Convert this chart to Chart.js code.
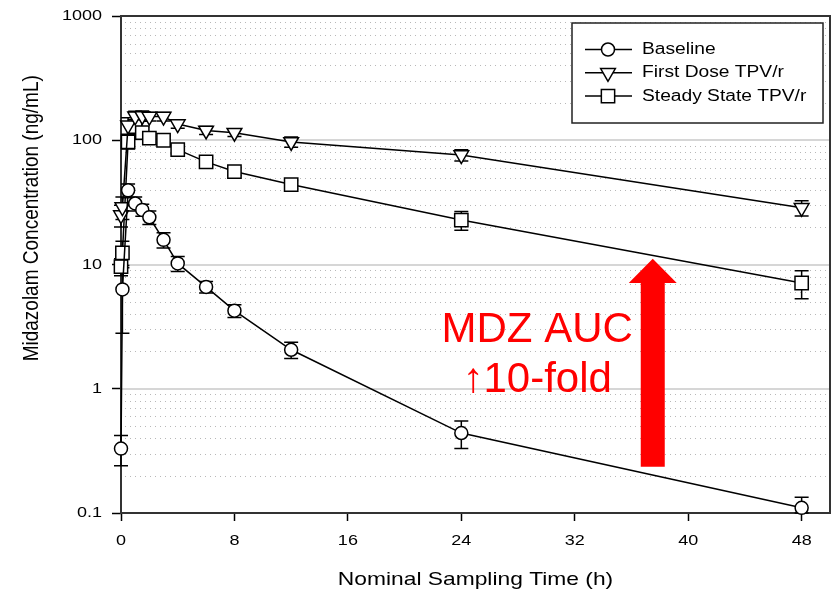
<!DOCTYPE html>
<html>
<head>
<meta charset="utf-8">
<script src="https://cdn.jsdelivr.net/npm/chart.js@4.4.0/dist/chart.umd.min.js"></script>
<style>
  html, body { margin: 0; padding: 0; background: #fff; }
  #wrap { width: 833px; height: 597px; position: relative; }
</style>
</head>
<body>
<div id="wrap"><canvas id="pkChart"></canvas></div>
<script>
// nominal sampling times (h)
const times = [0, 0.1, 0.5, 1, 1.5, 2, 3, 4, 6, 8, 12, 24, 48];

const baseline = [0.33, 6.3, 39.5, 31, 27.5, 24, 15.8, 10.2, 6.6, 4.25, 2.06, 0.44, 0.11];
const baselineSd = [0.09, 3.5, 5, 4, 3, 3, 2.2, 1.4, 0.7, 0.5, 0.31, 0.11, 0.024];

const firstDose = [25, 29, 132, 156, 157, 155, 155, 135, 120, 115, 97, 76, 28.6];
const firstDoseSd = [5, 6, 20, 15, 15, 12, 12, 10, 9, 8, 9, 8, 4];

const steadyState = [9.6, 12.4, 97, 129, 115, 104, 100, 84, 67, 56, 44, 22.8, 7.1];
const steadyStateSd = [1.5, 3, 12, 14, 12, 10, 8, 6, 5, 4, 3.5, 3.9, 1.8];

const seriesNames = ["Baseline", "First Dose TPV/r", "Steady State TPV/r"];

const xTicks = [0, 8, 16, 24, 32, 40, 48];
const yTicks = [0.1, 1, 10, 100, 1000];
const majorGrid = [1, 10, 100];
const minorDecades = [0.1, 1, 10, 100];

// annotation anchors (data units)
const arrowX = 37.5;
const arrowTip = 11.1;
const arrowHeadBase = 7.1;
const arrowBottom = 0.236;
const noteX = 29.35;
const noteLines = ["MDZ AUC", "\u219110-fold"];
const noteLineY = [2.39, 0.946];

const STRETCH = 1.2;
const FONT = '"Liberation Sans", Arial, sans-serif';

function stretchText(ctx, text, x, y, size, align, baseline) {
  ctx.save();
  ctx.translate(x, y);
  ctx.scale(STRETCH, 1);
  ctx.font = `${size}px ${FONT}`;
  ctx.textAlign = align;
  ctx.textBaseline = baseline;
  ctx.fillStyle = "#000";
  ctx.fillText(text, 0, 0);
  ctx.restore();
}

function makeSet(label, values, style, rotation, radius) {
  return {
    label,
    data: times.map((t, i) => ({ x: t, y: values[i] })),
    borderColor: "#000",
    borderWidth: 1.5,
    pointStyle: style,
    pointRotation: rotation,
    pointRadius: radius,
    pointBackgroundColor: "#fff",
    pointBorderColor: "#000",
    pointBorderWidth: 1.5,
    fill: false,
    tension: 0,
    clip: false,
  };
}

const errorSets = [baselineSd, firstDoseSd, steadyStateSd];

const decor = {
  id: "decor",
  beforeDatasetsDraw(chart) {
    const { ctx, chartArea: a, scales: { x, y } } = chart;
    ctx.save();

    // dotted minor grid
    ctx.strokeStyle = "#b8b8b8";
    ctx.lineWidth = 1;
    ctx.setLineDash([1, 4]);
    minorDecades.forEach((d) => {
      for (let m = 2; m <= 9; m++) {
        const py = Math.round(y.getPixelForValue(m * d)) + 0.5;
        ctx.beginPath();
        ctx.moveTo(a.left + 4, py);
        ctx.lineTo(a.right, py);
        ctx.stroke();
      }
    });
    ctx.setLineDash([]);

    // solid major grid
    ctx.strokeStyle = "#d6d6d6";
    ctx.lineWidth = 2;
    majorGrid.forEach((v) => {
      const py = Math.round(y.getPixelForValue(v));
      ctx.beginPath();
      ctx.moveTo(a.left, py);
      ctx.lineTo(a.right, py);
      ctx.stroke();
    });

    // frame
    ctx.strokeStyle = "#333";
    ctx.lineWidth = 2;
    ctx.strokeRect(a.left, a.top, a.width, a.height);

    // error bars
    ctx.strokeStyle = "#000";
    ctx.lineWidth = 1.5;
    chart.data.datasets.forEach((ds, di) => {
      const sd = errorSets[di];
      ds.data.forEach((p, i) => {
        const px = x.getPixelForValue(p.x);
        const hi = y.getPixelForValue(p.y + sd[i]);
        const lo = y.getPixelForValue(Math.max(p.y - sd[i], 0.1));
        ctx.beginPath();
        ctx.moveTo(px, hi);
        ctx.lineTo(px, lo);
        ctx.moveTo(px - 7, hi);
        ctx.lineTo(px + 7, hi);
        ctx.moveTo(px - 7, lo);
        ctx.lineTo(px + 7, lo);
        ctx.stroke();
      });
    });
    ctx.restore();
  },
  afterDraw(chart) {
    const { ctx, chartArea: a, scales: { x, y } } = chart;
    ctx.save();

    // tick labels
    y.ticks.forEach((t) => {
      stretchText(ctx, String(t.value), y.right - 19, y.getPixelForValue(t.value), 15, "right", "middle");
    });
    x.ticks.forEach((t) => {
      stretchText(ctx, String(t.value), x.getPixelForValue(t.value), x.top + 28, 15, "center", "middle");
    });

    // axis titles
    stretchText(ctx, "Nominal Sampling Time (h)", (a.left + a.right) / 2, 580, 19, "center", "middle");
    ctx.save();
    ctx.translate(32, a.top + a.height * 0.407);
    ctx.rotate(-Math.PI / 2);
    ctx.scale(1, STRETCH);
    ctx.font = `19px ${FONT}`;
    ctx.textAlign = "center";
    ctx.textBaseline = "middle";
    ctx.fillStyle = "#000";
    ctx.fillText("Midazolam Concentration (ng/mL)", 0, 0);
    ctx.restore();

    // legend
    const bx = a.right - 258, by = a.top + 7, bw = 251, bh = 100;
    ctx.fillStyle = "#fff";
    ctx.fillRect(bx, by, bw, bh);
    ctx.strokeStyle = "#222";
    ctx.lineWidth = 1.5;
    ctx.strokeRect(bx, by, bw, bh);
    chart.data.datasets.forEach((ds, i) => {
      const ry = by + 26.5 + i * 23.3;
      ctx.strokeStyle = "#000";
      ctx.lineWidth = 1.5;
      ctx.beginPath();
      ctx.moveTo(bx + 13, ry);
      ctx.lineTo(bx + 60, ry);
      ctx.stroke();
      ctx.fillStyle = "#fff";
      Chart.helpers.drawPoint(ctx, {
        pointStyle: ds.pointStyle,
        rotation: ds.pointRotation,
        radius: ds.pointRadius,
        borderWidth: 1.5,
      }, bx + 36, ry);
      stretchText(ctx, seriesNames[i], bx + 70, ry, 16, "left", "middle");
    });

    // red arrow
    const ax = x.getPixelForValue(arrowX);
    const tipY = y.getPixelForValue(arrowTip);
    const baseY = y.getPixelForValue(arrowHeadBase);
    const botY = y.getPixelForValue(arrowBottom);
    ctx.fillStyle = "#ff0000";
    ctx.beginPath();
    ctx.moveTo(ax, tipY);
    ctx.lineTo(ax + 24, baseY);
    ctx.lineTo(ax + 12, baseY);
    ctx.lineTo(ax + 12, botY);
    ctx.lineTo(ax - 12, botY);
    ctx.lineTo(ax - 12, baseY);
    ctx.lineTo(ax - 24, baseY);
    ctx.closePath();
    ctx.fill();

    ctx.font = `42px ${FONT}`;
    ctx.textAlign = "center";
    ctx.textBaseline = "alphabetic";
    noteLines.forEach((line, i) => {
      ctx.fillText(line, x.getPixelForValue(noteX), y.getPixelForValue(noteLineY[i]));
    });
    ctx.restore();
  },
};

new Chart(document.getElementById("pkChart"), {
  type: "line",
  data: {
    datasets: [
      makeSet(seriesNames[0], baseline, "circle", 0, 6.5),
      makeSet(seriesNames[1], firstDose, "triangle", 180, 8.5),
      makeSet(seriesNames[2], steadyState, "rect", 0, 9.4),
    ],
  },
  options: {
    responsive: true,
    maintainAspectRatio: false,
    animation: false,
    devicePixelRatio: 1,
    layout: { autoPadding: false, padding: { top: 16, right: 3, left: 0, bottom: 0 } },
    plugins: { legend: { display: false }, tooltip: { enabled: false } },
    scales: {
      x: {
        type: "linear",
        min: 0,
        max: 50,
        afterBuildTicks: (s) => { s.ticks = xTicks.map((v) => ({ value: v })); },
        afterFit: (s) => { s.height = 84; },
        border: { display: false },
        grid: { drawOnChartArea: false, drawTicks: true, tickLength: 8, tickColor: "#000", tickWidth: 1.5 },
        ticks: { display: false },
      },
      y: {
        type: "logarithmic",
        min: 0.1,
        max: 1000,
        afterBuildTicks: (s) => { s.ticks = yTicks.map((v) => ({ value: v })); },
        afterFit: (s) => { s.width = 121; },
        border: { display: false },
        grid: { drawOnChartArea: false, drawTicks: true, tickLength: 9, tickColor: "#000", tickWidth: 1.5 },
        ticks: { display: false },
      },
    },
  },
  plugins: [decor],
});
</script>
</body>
</html>
